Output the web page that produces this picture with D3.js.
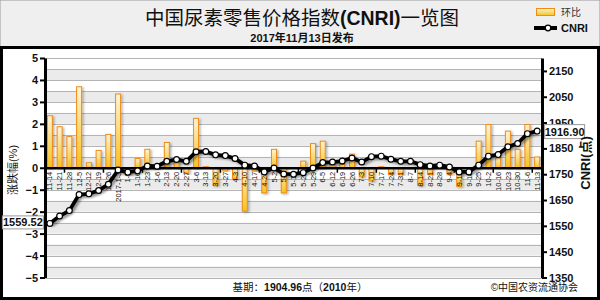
<!DOCTYPE html>
<html>
<head>
<meta charset="utf-8">
<script src="https://cdn.jsdelivr.net/npm/d3@7"></script>
<style>
  body { margin: 0; background: #fff; }
  svg { display: block; font-family: "Liberation Sans", Arial, "Noto Sans CJK SC", sans-serif; }
  .axis text { font-weight: bold; font-size: 11px; fill: #111; }
  .axis .domain { stroke: #000; stroke-width: 3; }
  .axis .tick line { stroke: #000; stroke-width: 2; }
  .x-axis text { font-weight: normal; font-size: 7.5px; fill: #111; }
</style>
</head>
<body>
<div id="chart"></div>
<script>
const dates = ['11-14', '11-21', '11-28', '12-5', '12-12', '12-19', '12-26', '2017-1-3', '1-9', '1-16',
  '1-23', '2-6', '2-13', '2-20', '2-27', '3-6', '3-13', '3-20', '3-27', '4-3',
  '4-10', '4-17', '4-24', '5-2', '5-8', '5-15', '5-22', '5-29', '6-5', '6-12',
  '6-19', '6-26', '7-3', '7-10', '7-17', '7-24', '7-31', '8-7', '8-14', '8-21',
  '8-28', '9-4', '9-11', '9-18', '9-25', '10-2', '10-16', '10-23', '10-30', '11-6', '11-13'];

// 环比 (%)
const changes = [2.37, 1.87, 1.42, 3.69, 0.23, 0.79, 1.52, 3.36, -0.3, 0.42,
  0.84, -0.05, 1.15, 0.38, -0.25, 2.25, 0.05, -0.8, -0.15, -0.5,
  -1.98, -0.15, -1.15, 0.84, -1.15, 0.03, 0.3, 1.1, 1.21, 0.2,
  0.15, 0.62, -0.42, -0.6, 0.05, -0.31, -0.31, -0.05, -0.8, -0.31,
  0.05, -0.3, -0.85, 0.02, 1.21, 1.97, 0.45, 1.67, 0.84, 1.97, 0.49];

// CNRI (点)
const cnri = [1559.52, 1588, 1609, 1671, 1674, 1687, 1711, 1766, 1758, 1763,
  1782, 1781, 1800, 1807, 1800, 1837, 1838, 1825, 1822, 1811,
  1785, 1782, 1759, 1774, 1751, 1750, 1756, 1774, 1795, 1797,
  1801, 1813, 1797, 1818, 1820, 1808, 1800, 1800, 1787, 1782,
  1785, 1778, 1759, 1759, 1785, 1820, 1826, 1856, 1869, 1907, 1916.90];

const leftTicks = [-5, -4, -3, -2, -1, 0, 1, 2, 3, 4, 5];
const rightTicks = [1350, 1450, 1550, 1650, 1750, 1850, 1950, 2050, 2150];

const width = 600;
const height = 300;
const plot = { left: 45, right: 542, top: 58, bottom: 277.5 };

const svg = d3.select('#chart')
  .append('svg')
  .attr('width', width)
  .attr('height', height);

const defs = svg.append('defs');
const barGrad = defs.append('linearGradient')
  .attr('id', 'bar-grad')
  .attr('x1', 0).attr('y1', 0).attr('x2', 0).attr('y2', 1);
barGrad.append('stop').attr('offset', '0%').attr('stop-color', '#fff4d8');
barGrad.append('stop').attr('offset', '100%').attr('stop-color', '#f6c21c');

const shadow = defs.append('filter')
  .attr('id', 'shadow')
  .attr('x', '-20%').attr('y', '-20%').attr('width', '150%').attr('height', '150%');
shadow.append('feDropShadow')
  .attr('dx', 2).attr('dy', 2).attr('stdDeviation', 1.2)
  .attr('flood-color', '#000').attr('flood-opacity', 0.4);

const barShadow = defs.append('filter')
  .attr('id', 'bar-shadow')
  .attr('x', '-50%').attr('y', '-10%').attr('width', '250%').attr('height', '130%');
barShadow.append('feDropShadow')
  .attr('dx', 1.5).attr('dy', 1).attr('stdDeviation', 0.8)
  .attr('flood-color', '#000').attr('flood-opacity', 0.3);

// header and frame
svg.append('rect')
  .attr('x', 0).attr('y', 0).attr('width', width).attr('height', 47)
  .attr('fill', '#efefef').attr('stroke', '#999').attr('stroke-width', 1);

svg.append('rect')
  .attr('x', 1.5).attr('y', 47.5).attr('width', width - 3).attr('height', height - 49)
  .attr('fill', '#fff').attr('stroke', '#000').attr('stroke-width', 3);

// title
const title = svg.append('text')
  .attr('x', 302).attr('y', 25)
  .attr('text-anchor', 'middle')
  .attr('font-size', 19.5)
  .attr('fill', '#111');
title.append('tspan').attr('font-family', 'Noto Sans CJK SC').text('中国尿素零售价格指数');
title.append('tspan').attr('font-weight', 'bold').text('(CNRI)');
title.append('tspan').attr('font-family', 'Noto Sans CJK SC').text('一览图');

svg.append('text')
  .attr('x', 302).attr('y', 42)
  .attr('text-anchor', 'middle')
  .attr('font-size', 11)
  .attr('font-weight', 'bold')
  .attr('fill', '#111')
  .text('2017年11月13日发布');

// legend
svg.append('rect')
  .attr('x', 536.5).attr('y', 8.5).attr('width', 18).attr('height', 7)
  .attr('fill', 'url(#bar-grad)').attr('stroke', '#ef8b17');
svg.append('text')
  .attr('x', 561).attr('y', 16)
  .attr('font-size', 10).attr('fill', '#333')
  .text('环比');
svg.append('line')
  .attr('x1', 534).attr('x2', 557).attr('y1', 28).attr('y2', 28)
  .attr('stroke', '#000').attr('stroke-width', 4);
svg.append('circle')
  .attr('cx', 548).attr('cy', 28).attr('r', 2.8)
  .attr('fill', '#fff').attr('stroke', '#000').attr('stroke-width', 1.3);
svg.append('text')
  .attr('x', 561).attr('y', 32)
  .attr('font-size', 11).attr('font-weight', 'bold').attr('fill', '#111')
  .text('CNRI');

// scales
const x = d3.scaleBand()
  .domain(dates)
  .range([plot.left, plot.right]);

const yL = d3.scaleLinear()
  .domain([-5, 5])
  .range([plot.bottom, plot.top]);

const yR = d3.scaleLinear()
  .domain([1350, 2200])
  .range([plot.bottom, plot.top]);

// background bands and grid
svg.append('g')
  .selectAll('rect')
  .data(d3.range(-5, 5, 1))
  .join('rect')
  .attr('x', plot.left)
  .attr('width', plot.right - plot.left)
  .attr('y', d => yL(d + 0.5))
  .attr('height', d => yL(d) - yL(d + 0.5))
  .attr('fill', '#ebebeb');

svg.append('g')
  .selectAll('line')
  .data(d3.range(-5, 5.01, 0.5))
  .join('line')
  .attr('x1', plot.left)
  .attr('x2', plot.right)
  .attr('y1', d => Math.round(yL(d)) + 0.5)
  .attr('y2', d => Math.round(yL(d)) + 0.5)
  .attr('stroke', '#b4b4b4');

// bars
const barW = 5;
svg.append('g')
  .selectAll('rect')
  .data(changes)
  .join('rect')
  .attr('x', (d, i) => x(dates[i]) + (x.bandwidth() - barW) / 2)
  .attr('width', barW)
  .attr('y', d => Math.min(yL(d), yL(0)))
  .attr('height', d => Math.abs(yL(d) - yL(0)))
  .attr('fill', 'url(#bar-grad)')
  .attr('stroke', '#ef8b17')
  .attr('stroke-width', 1)
  .attr('filter', 'url(#bar-shadow)');

// zero line with x labels
const xAxis = svg.append('g')
  .attr('class', 'x-axis')
  .attr('transform', `translate(0, ${yL(0)})`)
  .call(d3.axisBottom(x).tickSize(0).tickSizeOuter(0));
xAxis.select('.domain')
  .attr('stroke', '#000')
  .attr('stroke-width', 2.5);
xAxis.selectAll('text')
  .attr('transform', 'rotate(-90)')
  .attr('text-anchor', 'end')
  .attr('x', -4)
  .attr('y', 0)
  .attr('dy', '0.35em');

xAxis.selectAll('.minor')
  .data(d3.range(2, dates.length, 4))
  .join('line')
  .attr('class', 'minor')
  .attr('x1', k => plot.left + k * x.step())
  .attr('x2', k => plot.left + k * x.step())
  .attr('y1', 0)
  .attr('y2', 5)
  .attr('stroke', '#000')
  .attr('stroke-width', 1.5);

// axes
svg.append('g')
  .attr('class', 'axis')
  .attr('transform', `translate(${plot.left}, 0)`)
  .call(d3.axisLeft(yL).tickValues(leftTicks).tickSize(5).tickSizeOuter(0).tickPadding(2));

svg.append('g')
  .attr('class', 'axis')
  .attr('transform', `translate(${plot.right}, 0)`)
  .call(d3.axisRight(yR).tickValues(rightTicks).tickFormat(d3.format('d'))
    .tickSize(5).tickSizeOuter(0).tickPadding(2));

// CNRI line
const line = d3.line()
  .x((d, i) => x(dates[i]) + x.bandwidth() / 2)
  .y(d => yR(d));

svg.append('path')
  .datum(cnri)
  .attr('d', line)
  .attr('fill', 'none')
  .attr('stroke', '#000')
  .attr('stroke-width', 3.8)
  .attr('stroke-linejoin', 'round')
  .attr('filter', 'url(#shadow)');

svg.append('g')
  .selectAll('circle')
  .data(cnri)
  .join('circle')
  .attr('cx', (d, i) => x(dates[i]) + x.bandwidth() / 2)
  .attr('cy', d => yR(d))
  .attr('r', 2.9)
  .attr('fill', '#fff')
  .attr('stroke', '#000')
  .attr('stroke-width', 1.2);

// end value labels
const firstX = x(dates[0]) + x.bandwidth() / 2;
const firstY = yR(cnri[0]);
svg.append('rect')
  .attr('x', firstX - 47.5).attr('y', firstY - 7.5)
  .attr('width', 41).attr('height', 13)
  .attr('fill', '#fff').attr('stroke', '#999');
svg.append('text')
  .attr('x', firstX - 27).attr('y', firstY + 3)
  .attr('text-anchor', 'middle')
  .attr('font-size', 11).attr('font-weight', 'bold').attr('fill', '#111')
  .text(d3.format('.2f')(cnri[0]));

const lastX = x(dates[dates.length - 1]) + x.bandwidth() / 2;
const lastY = yR(cnri[cnri.length - 1]);
svg.append('rect')
  .attr('x', lastX + 7.5).attr('y', lastY - 6.5)
  .attr('width', 40).attr('height', 14)
  .attr('fill', '#fff').attr('stroke', '#999');
svg.append('text')
  .attr('x', lastX + 27.5).attr('y', lastY + 4.5)
  .attr('text-anchor', 'middle')
  .attr('font-size', 11).attr('font-weight', 'bold').attr('fill', '#111')
  .text(d3.format('.2f')(cnri[cnri.length - 1]));

// axis titles
svg.append('text')
  .attr('transform', 'translate(17, 170) rotate(-90)')
  .attr('text-anchor', 'middle')
  .attr('font-size', 11).attr('fill', '#111')
  .text('涨跌幅(%)');

svg.append('text')
  .attr('transform', 'translate(590, 163) rotate(-90)')
  .attr('text-anchor', 'middle')
  .attr('font-size', 13).attr('font-weight', 'bold').attr('fill', '#111')
  .text('CNRI(点)');

// footer
const base = svg.append('text')
  .attr('x', 300).attr('y', 291)
  .attr('text-anchor', 'middle')
  .attr('font-size', 10.5).attr('fill', '#111');
base.append('tspan').text('基期：');
base.append('tspan').attr('font-weight', 'bold').text('1904.96');
base.append('tspan').text('点（');
base.append('tspan').attr('font-weight', 'bold').text('2010');
base.append('tspan').text('年）');

svg.append('text')
  .attr('x', 578).attr('y', 291)
  .attr('text-anchor', 'end')
  .attr('font-size', 10).attr('fill', '#111')
  .text('©中国农资流通协会');
</script>
</body>
</html>
